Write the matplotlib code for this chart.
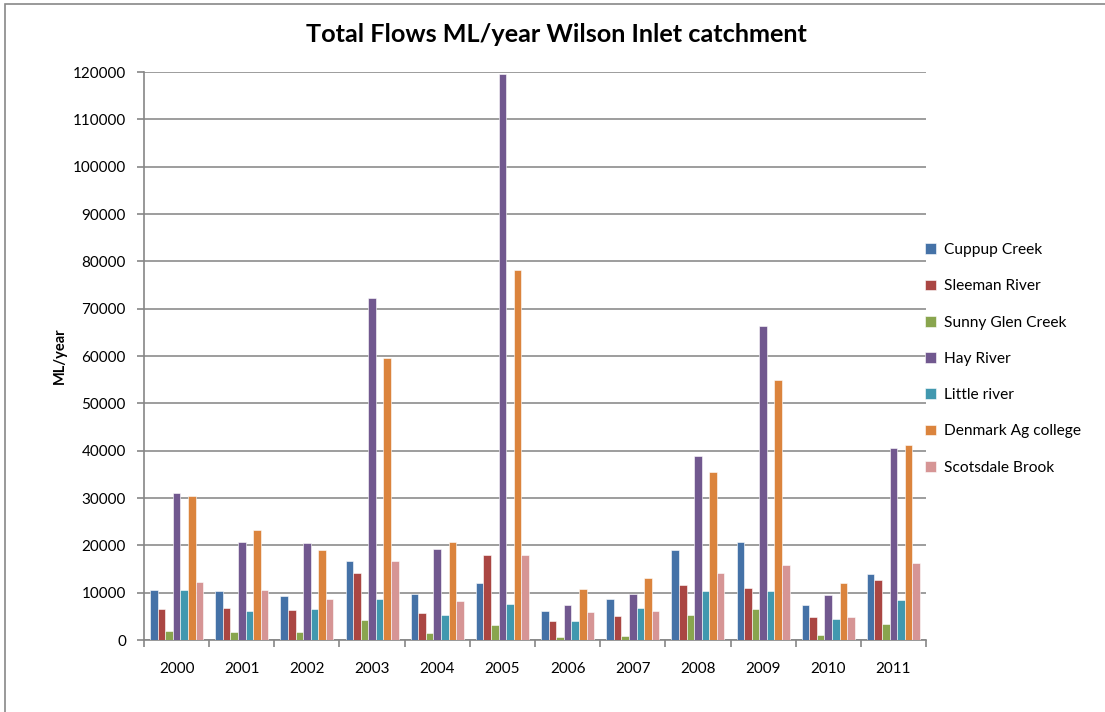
import numpy as np
import matplotlib
matplotlib.use('Agg')
from matplotlib import pyplot as plt
import matplotlib.patches as patches

plt.rcParams['font.family'] = ['Lato', 'DejaVu Sans']

# Data
years = ['2000', '2001', '2002', '2003', '2004', '2005',
         '2006', '2007', '2008', '2009', '2010', '2011']
cuppup = [10600, 10350, 9200, 16700, 9750, 12000, 6150, 8650, 19000, 20700, 7300, 13900]
sleeman = [6450, 6750, 6250, 14200, 5650, 17900, 4000, 5050, 11550, 10900, 4800, 12600]
sunny_glen = [2000, 1700, 1700, 4150, 1400, 3100, 650, 950, 5300, 6450, 1150, 3300]
hay = [31000, 20700, 20400, 72300, 19250, 119600, 7350, 9800, 38800, 66300, 9450, 40650]
little = [10650, 6150, 6450, 8650, 5300, 7550, 4000, 6750, 10350, 10350, 4500, 8350]
denmark = [30500, 23250, 19000, 59500, 20600, 78150, 10850, 13100, 35450, 54850, 11950, 41200]
scotsdale = [12350, 10650, 8650, 16700, 8150, 17900, 5900, 6150, 14250, 15950, 4800, 16200]

series = [cuppup, sleeman, sunny_glen, hay, little, denmark, scotsdale]
names = ['Cuppup Creek', 'Sleeman River', 'Sunny Glen Creek', 'Hay River',
         'Little river', 'Denmark Ag college', 'Scotsdale Brook']
colors = ['#4572A7', '#AA4643', '#89A54E', '#71588F', '#4198AF', '#DB843D', '#D69595']

W, H = 1105, 712
fig = plt.figure(figsize=(W / 100, H / 100), dpi=100)

# outer chart frame (only left/top visible in the reference crop)
frame = patches.Rectangle((5 / W, -0.1), 1.2, 1 - 4 / H + 0.1, transform=fig.transFigure,
                          fill=False, edgecolor='#888888', linewidth=1.2)
fig.patches.append(frame)

ax = fig.add_axes([144 / W, (H - 640) / H, (926 - 144) / W, (640 - 72) / H])

x = np.arange(len(years))
bw = 1 / (7 + 1.6)
for i, vals in enumerate(series):
    ax.bar(x + (i - 3) * bw, vals, bw, color=colors[i], edgecolor='white',
           linewidth=0.4, label=names[i], zorder=3)

ax.set_xlim(-0.5, len(years) - 0.5)
ax.set_ylim(0, 120000)
ax.set_yticks(np.arange(0, 120001, 10000))
ax.set_yticklabels([str(v) for v in range(0, 120001, 10000)])
ax.set_xticks(x)
ax.set_xticklabels(years)
ax.set_xticks(np.arange(-0.5, len(years)), minor=True)
ax.tick_params(axis='x', which='major', length=0, pad=16, labelsize=11)
ax.tick_params(axis='x', which='minor', length=5, color='#868686', width=1.2)
ax.tick_params(axis='y', length=5, color='#868686', width=1.2, labelsize=11, pad=8)

ax.grid(axis='y', color='#8c8c8c', linewidth=1.2, zorder=0)
for s in ['top', 'right']:
    ax.spines[s].set_visible(False)
for s in ['left', 'bottom']:
    ax.spines[s].set_color('#868686')
    ax.spines[s].set_linewidth(1.2)

ax.set_ylabel('ML/year', fontsize=10.5, fontweight='bold', labelpad=4)
fig.text(556 / W, 1 - 35 / H, 'Total Flows ML/year Wilson Inlet catchment',
         ha='center', va='center', fontsize=18.2, fontweight='bold')

leg = ax.legend(loc='upper left', bbox_to_anchor=(919 / W, 1 - 237 / H),
                bbox_transform=fig.transFigure, frameon=False, fontsize=11.2,
                handlelength=0.7, handleheight=0.7, handletextpad=0.5,
                labelspacing=1.43, borderaxespad=0)

fig.savefig('out.png', dpi=100)
